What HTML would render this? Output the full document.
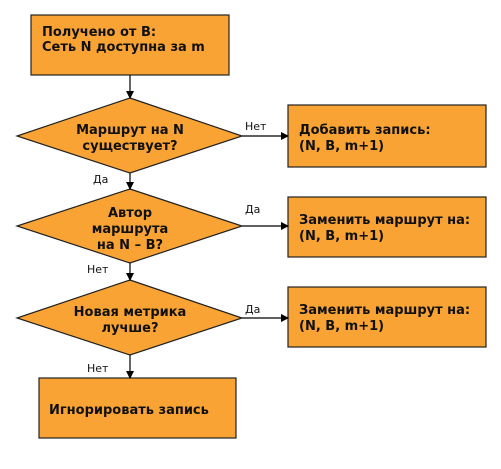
<!DOCTYPE html>
<html><head><meta charset="utf-8"><style>html,body{margin:0;padding:0;background:#fff}</style></head><body>
<svg width="501" height="464" xmlns="http://www.w3.org/2000/svg" font-family="DejaVu Sans, Liberation Sans, sans-serif">
<defs><marker id="a" markerWidth="8" markerHeight="8" refX="7" refY="4" orient="auto" markerUnits="userSpaceOnUse"><path d="M0,0 L8,4 L0,8 z" fill="#000"/></marker></defs>
<g fill="#F9A334" stroke="#222" stroke-width="1.2">
<rect x="31" y="15" width="198" height="60"/>
<polygon points="130,98 242,136 130,173 17,136"/>
<polygon points="130,189 242,226 130,263 17,226"/>
<polygon points="130,280 242,318 130,355 17,318"/>
<rect x="39" y="378" width="197" height="60"/>
<rect x="288" y="105" width="198" height="62"/>
<rect x="288" y="197" width="198" height="60"/>
<rect x="288" y="287" width="198" height="60"/>
</g>
<g stroke="#000" stroke-width="1.2" marker-end="url(#a)">
<line x1="130" y1="75" x2="130" y2="98"/>
<line x1="130" y1="173" x2="130" y2="189"/>
<line x1="130" y1="263" x2="130" y2="280"/>
<line x1="130" y1="355" x2="130" y2="378"/>
<line x1="242" y1="136" x2="288" y2="136"/>
<line x1="242" y1="226" x2="288" y2="226"/>
<line x1="242" y1="318" x2="288" y2="318"/>
</g>
<g font-size="13" font-weight="bold" fill="#111">
<text x="42" y="36">Получено от B:</text>
<text x="42" y="51">Сеть N доступна за m</text>
<text x="130" y="134" text-anchor="middle">Маршрут на N</text>
<text x="130" y="150" text-anchor="middle">существует?</text>
<text x="130" y="217" text-anchor="middle">Автор</text>
<text x="130" y="233" text-anchor="middle">маршрута</text>
<text x="130" y="249" text-anchor="middle">на N – B?</text>
<text x="130" y="316" text-anchor="middle">Новая метрика</text>
<text x="130" y="332" text-anchor="middle">лучше?</text>
<text x="49" y="414">Игнорировать запись</text>
<text x="299" y="134">Добавить запись:</text>
<text x="299" y="150">(N, B, m+1)</text>
<text x="299" y="224">Заменить маршрут на:</text>
<text x="299" y="240">(N, B, m+1)</text>
<text x="299" y="314">Заменить маршрут на:</text>
<text x="299" y="330">(N, B, m+1)</text>
</g>
<g font-size="11" fill="#111">
<text x="245" y="130">Нет</text>
<text x="93" y="183">Да</text>
<text x="245" y="213">Да</text>
<text x="87" y="273">Нет</text>
<text x="245" y="313">Да</text>
<text x="87" y="372">Нет</text>
</g>
</svg>
</body></html>
